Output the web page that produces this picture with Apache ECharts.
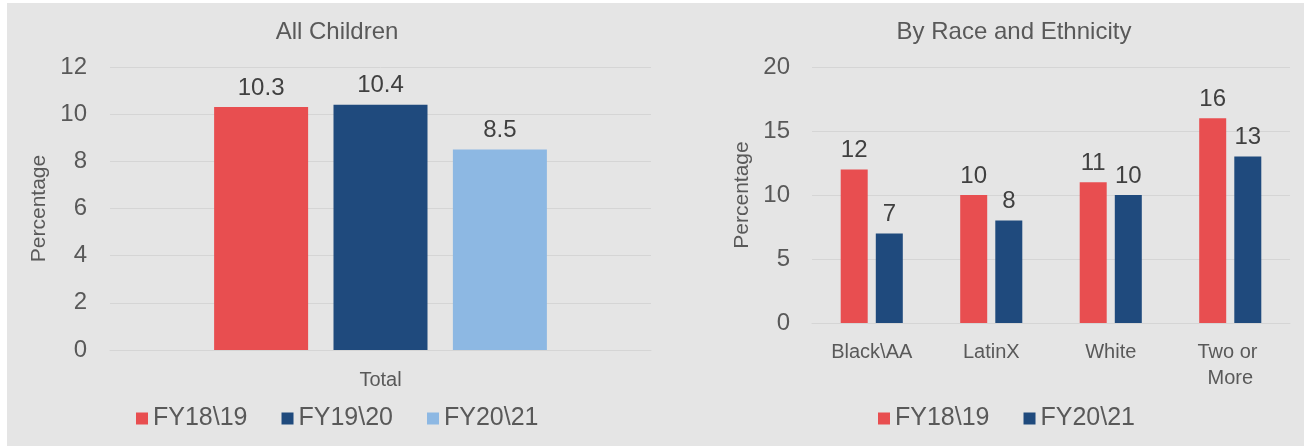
<!DOCTYPE html>
<html>
<head>
<meta charset="utf-8">
<script src="https://cdn.jsdelivr.net/npm/echarts@6/dist/echarts.min.js"></script>
<style>
  html, body { margin: 0; padding: 0; background: #ffffff; width: 1304px; height: 447px; overflow: hidden; }
  #wrap { position: absolute; left: 7px; top: 3px; width: 1297px; height: 443px; background: #e5e5e5; }
  #c1 { position: absolute; left: 0; top: 0; width: 653px; height: 443px; }
  #c2 { position: absolute; left: 653px; top: 0; width: 644px; height: 443px; }
</style>
</head>
<body>
<div id="wrap"><div id="c1"></div><div id="c2"></div></div>
<script>
// ---- Data ----
const leftTitle = 'All Children';
const leftCategories = ['Total'];
const leftSeriesNames = ['FY18\\19', 'FY19\\20', 'FY20\\21'];
const leftFY1819 = [10.3];
const leftFY1920 = [10.4];
const leftFY2021 = [8.5];
const leftTicks = { min: 0, max: 12, interval: 2 };

const rightTitle = 'By Race and Ethnicity';
const rightCategories = ['Black\\AA', 'LatinX', 'White', 'Two or More'];
const rightSeriesNames = ['FY18\\19', 'FY20\\21'];
const rightFY1819 = [12, 10, 11, 16];
const rightFY2021 = [7, 8, 10, 13];
const rightTicks = { min: 0, max: 20, interval: 5 };

const axisName = 'Percentage';

// ---- Style ----
const FONT = 'Liberation Sans, Arial, sans-serif';
const RED = '#e84e50';
const DARK = '#1f4a7d';
const LIGHT = '#8db8e3';
const GRID = '#d5d5d5';
const TXT = '#595959';
const LBL = '#404040';

function barSeries(name, data, color, barWidth, barGap) {
  return {
    type: 'bar', name: name, data: data, barWidth: barWidth, barGap: barGap,
    itemStyle: { color: color },
    label: { show: true, position: 'top', distance: 7, color: LBL, fontSize: 24, fontFamily: FONT },
    silent: true, animation: false
  };
}

const c1 = echarts.init(document.getElementById('c1'), null, { renderer: 'canvas' });
c1.setOption({
  animation: false,
  title: { text: leftTitle, left: 325, textAlign: 'center', top: 12,
    textStyle: { fontSize: 24, fontWeight: 'normal', color: TXT, fontFamily: FONT } },
  legend: {
    left: 124, top: 398, itemWidth: 12, itemHeight: 12, itemGap: 34,
    icon: 'rect', textStyle: { fontSize: 25, color: TXT, fontFamily: FONT },
    data: leftSeriesNames
  },
  grid: { left: 103, right: 9, top: 64, bottom: 96 },
  xAxis: {
    type: 'category', data: leftCategories,
    axisLine: { show: true, lineStyle: { color: GRID } }, axisTick: { show: false },
    axisLabel: { margin: 20, fontSize: 20, color: TXT, fontFamily: FONT }
  },
  yAxis: {
    type: 'value', min: leftTicks.min, max: leftTicks.max, interval: leftTicks.interval,
    name: axisName, nameLocation: 'middle', nameGap: 48,
    nameTextStyle: { fontSize: 21, color: TXT, fontFamily: FONT },
    axisLine: { show: false }, axisTick: { show: false },
    axisLabel: { margin: 23, fontSize: 24, color: TXT, fontFamily: FONT },
    splitLine: { lineStyle: { color: GRID, width: 1 } }
  },
  series: [
    barSeries(leftSeriesNames[0], leftFY1819, RED, 94, '27%'),
    barSeries(leftSeriesNames[1], leftFY1920, DARK, 94, '27%'),
    barSeries(leftSeriesNames[2], leftFY2021, LIGHT, 94, '27%')
  ]
});

const c2 = echarts.init(document.getElementById('c2'), null, { renderer: 'canvas' });
c2.setOption({
  animation: false,
  title: { text: rightTitle, left: 349, textAlign: 'center', top: 12,
    textStyle: { fontSize: 24, fontWeight: 'normal', color: TXT, fontFamily: FONT } },
  legend: {
    left: 213, top: 398, itemWidth: 12, itemHeight: 12, itemGap: 34,
    icon: 'rect', textStyle: { fontSize: 25, color: TXT, fontFamily: FONT },
    data: rightSeriesNames
  },
  grid: { left: 152, right: 14, top: 64, bottom: 123 },
  xAxis: {
    type: 'category', data: rightCategories,
    axisLine: { show: true, lineStyle: { color: GRID } }, axisTick: { show: false },
    axisLabel: { margin: 16, fontSize: 20, color: TXT, fontFamily: FONT, width: 90, overflow: 'break', lineHeight: 26, interval: 0 }
  },
  yAxis: {
    type: 'value', min: rightTicks.min, max: rightTicks.max, interval: rightTicks.interval,
    name: axisName, nameLocation: 'middle', nameGap: 55,
    nameTextStyle: { fontSize: 21, color: TXT, fontFamily: FONT },
    axisLine: { show: false }, axisTick: { show: false },
    axisLabel: { margin: 22, fontSize: 24, color: TXT, fontFamily: FONT },
    splitLine: { lineStyle: { color: GRID, width: 1 } }
  },
  series: [
    barSeries(rightSeriesNames[0], rightFY1819, RED, 27, '30%'),
    barSeries(rightSeriesNames[1], rightFY2021, DARK, 27, '30%')
  ]
});
</script>
</body>
</html>
